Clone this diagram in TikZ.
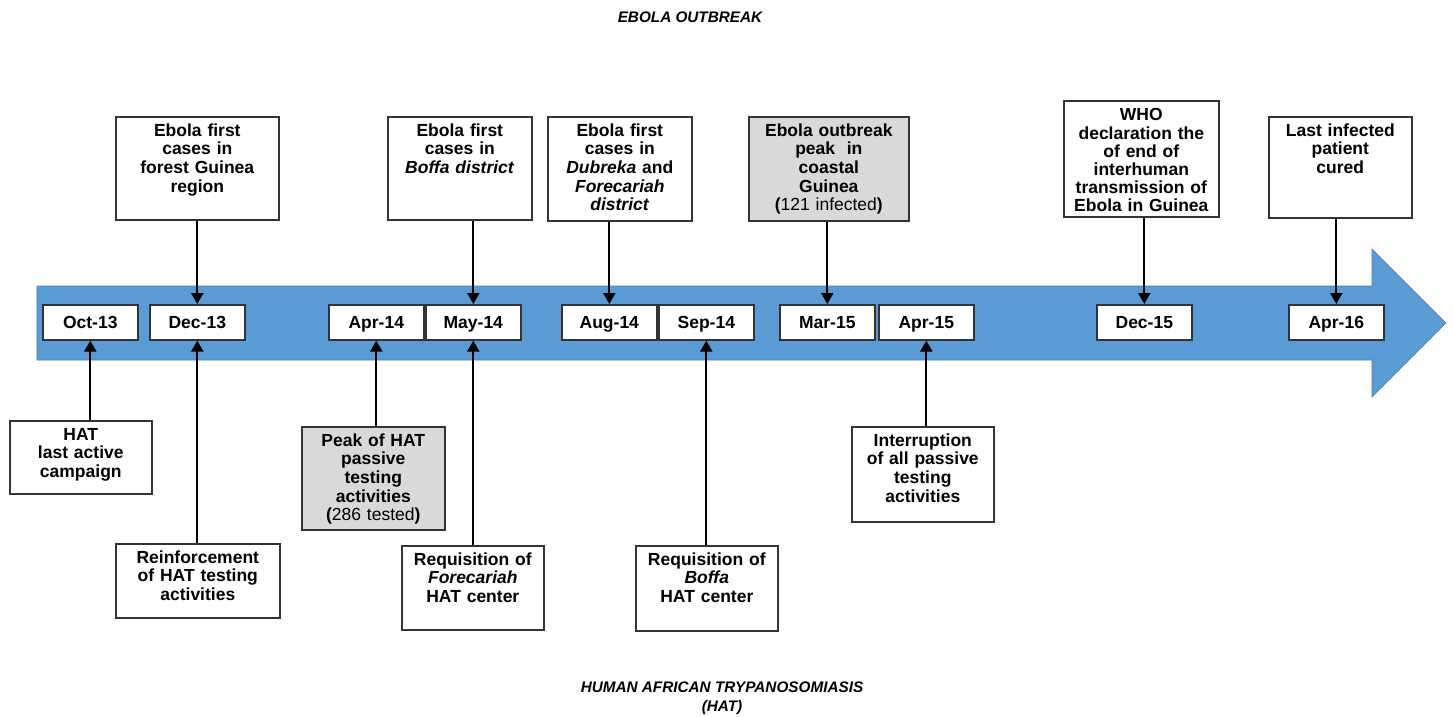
\documentclass[tikz,border=0pt]{standalone}
\usepackage{fontspec}
\setmainfont{Liberation Sans}
\usetikzlibrary{arrows.meta,positioning}
\definecolor{HATblue}{HTML}{5B9BD5}
\definecolor{HATedge}{HTML}{4A7EB0}
\definecolor{HATgray}{HTML}{D9D9D9}
\definecolor{HATline}{HTML}{333333}

\tikzset{
  datebox/.style={draw=HATline,line width=1.6pt,fill=white,anchor=north west,
    minimum width=95pt,minimum height=35pt,inner sep=0pt,
    text height=12.5pt,text depth=0pt,
    font=\fontsize{17.5}{18.6}\selectfont\bfseries},
  evbox/.style={draw=HATline,line width=1.6pt,fill=white,anchor=north west,
    align=center,inner xsep=2pt,inner ysep=7pt,text height=12.5pt,text depth=#1,
    font=\fontsize{17.5}{18.6}\selectfont\bfseries},
  peakbox/.style={evbox=#1,fill=HATgray},
  link/.style={line width=2.2pt,-{Triangle[width=12pt,length=11pt]}},
  heading/.style={align=center,font=\fontsize{15.3}{19}\selectfont\bfseries\itshape},
}

\begin{document}
\begin{tikzpicture}[x=1pt,y=-1pt]
  \useasboundingbox (0,0) rectangle (1453,717);

  % Titles
  \node[heading] (ebtitle) at (690,17) {EBOLA OUTBREAK};
  \node[heading] (hattitle) at (722,698) {HUMAN AFRICAN TRYPANOSOMIASIS\\(HAT)};

  % Time arrow
  \fill[HATblue,draw=HATedge,line width=0.6pt] (37,286) -- (1372,286) -- (1372,249)
    -- (1446,323) -- (1372,397) -- (1372,360) -- (37,360) -- cycle;

  % Dates
  \node[datebox] (oct13) at (42,304)   {Oct-13};
  \node[datebox] (dec13) at (149,304)  {Dec-13};
  \node[datebox] (apr14) at (328,304)  {Apr-14};
  \node[datebox] (may14) at (425,304)  {May-14};
  \node[datebox] (aug14) at (561,304)  {Aug-14};
  \node[datebox] (sep14) at (658,304)  {Sep-14};
  \node[datebox] (mar15) at (779,304)  {Mar-15};
  \node[datebox] (apr15) at (878,304)  {Apr-15};
  \node[datebox] (dec15) at (1096,304) {Dec-15};
  \node[datebox] (apr16) at (1288,304) {Apr-16};

  % Ebola events (above)
  \node[evbox=76.5pt,text width=159pt] (ebforest) at (115,116)
    {Ebola first\\cases in\\forest Guinea\\region};
  \node[evbox=76.5pt,text width=140pt] (ebboffa) at (387,116)
    {Ebola first\\cases in\\\textit{Boffa district}};
  \node[evbox=77.5pt,text width=140pt] (ebdubreka) at (547,116)
    {Ebola first\\cases in\\\textit{Dubreka} and\\\textit{Forecariah}\\\textit{district}};
  \node[peakbox=77.5pt,text width=156pt] (ebpeak) at (748,116)
    {Ebola outbreak\\peak~~in\\coastal\\Guinea\\({\mdseries 121 infected})};
  \node[evbox=89pt,text height=13pt,text width=151pt,
        font=\fontsize{17.5}{18.2}\selectfont\bfseries] (ebwho) at (1063,100)
    {WHO\\declaration the\\of end of\\interhuman\\transmission of\\Ebola in Guinea};
  \node[evbox=74.5pt,text width=139pt] (eblast) at (1268,116)
    {Last infected\\patient\\cured};

  % HAT events (below)
  \node[evbox=46.5pt,text width=138pt] (hatlast) at (9,420)
    {HAT\\last active\\campaign};
  \node[evbox=47.5pt,text width=160pt] (hatreinf) at (115,543)
    {Reinforcement\\of HAT testing\\activities};
  \node[peakbox=76.5pt,text width=139pt] (hatpeak) at (301,426)
    {Peak of HAT\\passive\\testing\\activities\\({\mdseries 286 tested})};
  \node[evbox=57.5pt,text width=138pt] (hatforec) at (401,545)
    {Requisition of\\\textit{Forecariah}\\HAT center};
  \node[evbox=58.5pt,text width=138pt] (hatboffa) at (635,545)
    {Requisition of\\\textit{Boffa}\\HAT center};
  \node[evbox=68.5pt,text width=138pt] (hatstop) at (851,426)
    {Interruption\\of all passive\\testing\\activities};

  % Links down to the dates
  \draw[link] (ebforest.south -| dec13.north) -- (dec13.north);
  \draw[link] (ebboffa.south -| may14.north) -- (may14.north);
  \draw[link] (ebdubreka.south -| aug14.north) -- (aug14.north);
  \draw[link] (ebpeak.south -| mar15.north) -- (mar15.north);
  \draw[link] (ebwho.south -| dec15.north) -- (dec15.north);
  \draw[link] (eblast.south -| apr16.north) -- (apr16.north);

  % Links up to the dates
  \draw[link] (hatlast.north -| oct13.south) -- (oct13.south);
  \draw[link] (hatreinf.north -| dec13.south) -- (dec13.south);
  \draw[link] (hatpeak.north -| apr14.south) -- (apr14.south);
  \draw[link] (hatforec.north -| may14.south) -- (may14.south);
  \draw[link] (hatboffa.north -| sep14.south) -- (sep14.south);
  \draw[link] (hatstop.north -| apr15.south) -- (apr15.south);
\end{tikzpicture}
\end{document}
